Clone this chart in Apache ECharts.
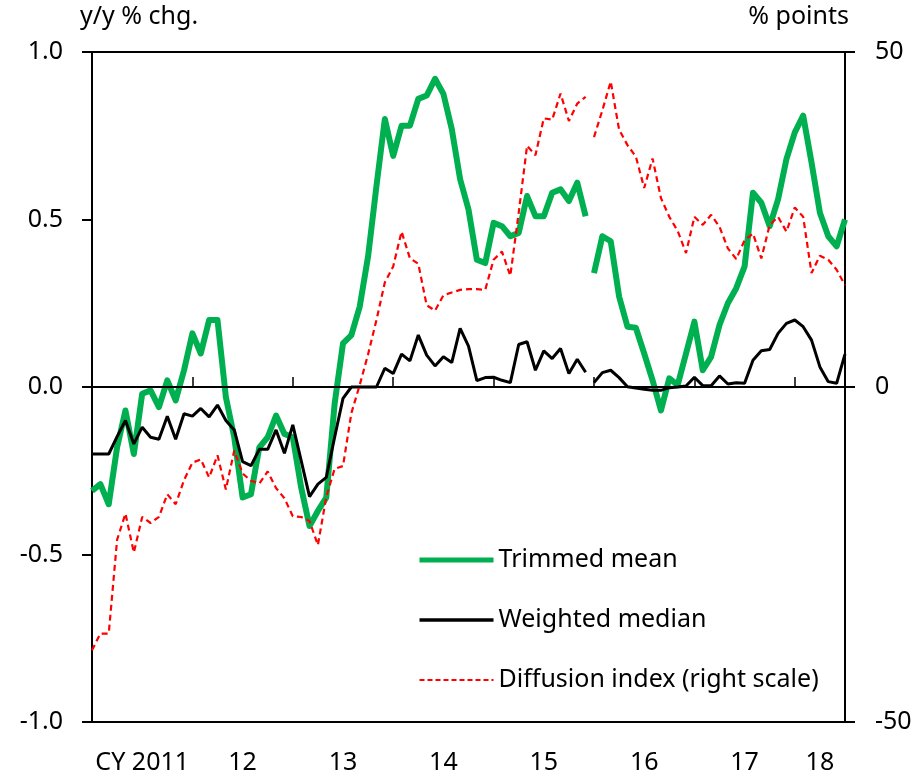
<!DOCTYPE html>
<html>
<head>
<meta charset="utf-8">
<script src="https://cdn.jsdelivr.net/npm/echarts@6/dist/echarts.min.js"></script>
<style>
html, body { margin: 0; padding: 0; background: #fff; }
#chart { width: 919px; height: 779px; }
</style>
</head>
<body>
<div id="chart"></div>
<script>
// monthly points, CY2011/1 .. 2018/7
var months = [];
for (var y = 2011; y <= 2018; y++) {
  for (var m = 1; m <= 12; m++) {
    if (y === 2018 && m > 7) break;
    months.push(y + '/' + m);
  }
}
var yearLabels = ['CY 2011', '12', '13', '14', '15', '16', '17', '18'];
var yearLabelIdx = [6, 18, 30, 42, 54, 66, 78, 87];
var breakIdx = 60; // series restart in Jan 2016

// y/y % chg.
var trimmedMean = [
  -0.31, -0.29, -0.35, -0.18, -0.07, -0.20, -0.02, -0.01, -0.06, 0.02, -0.04, 0.05,
  0.16, 0.10, 0.20, 0.20, -0.03, -0.15, -0.33, -0.32, -0.18, -0.15, -0.085, -0.14,
  -0.15, -0.30, -0.415, -0.37, -0.33, -0.05, 0.13, 0.155, 0.24, 0.39, 0.60, 0.80,
  0.69, 0.78, 0.78, 0.86, 0.87, 0.92, 0.875, 0.77, 0.62, 0.53, 0.38, 0.37,
  0.49, 0.48, 0.45, 0.46, 0.57, 0.51, 0.51, 0.58, 0.59, 0.555, 0.61, 0.51,
  0.34, 0.45, 0.435, 0.27, 0.18, 0.177, 0.10, 0.02, -0.07, 0.026, 0.006, 0.10,
  0.195, 0.05, 0.09, 0.185, 0.25, 0.295, 0.36, 0.58, 0.55, 0.48, 0.56, 0.68,
  0.76, 0.81, 0.67, 0.52, 0.45, 0.42, 0.50
];
var weightedMedian = [
  -0.20, -0.20, -0.20, -0.148, -0.10, -0.17, -0.12, -0.15, -0.156, -0.087, -0.156, -0.08,
  -0.087, -0.064, -0.089, -0.054, -0.10, -0.128, -0.223, -0.235, -0.186, -0.186, -0.128, -0.198,
  -0.113, -0.22, -0.327, -0.29, -0.27, -0.15, -0.034, 0.0, 0.0, 0.0, 0.0, 0.056,
  0.04, 0.098, 0.078, 0.155, 0.095, 0.063, 0.09, 0.073, 0.175, 0.122, 0.019, 0.028,
  0.029, 0.02, 0.013, 0.127, 0.135, 0.05, 0.108, 0.085, 0.115, 0.04, 0.083, 0.044,
  0.013, 0.043, 0.05, 0.028, 0.001, -0.003, -0.007, -0.01, -0.01, -0.002, 0.0, 0.003,
  0.029, 0.004, 0.004, 0.033, 0.009, 0.013, 0.011, 0.08, 0.108, 0.112, 0.16, 0.19,
  0.20, 0.18, 0.14, 0.06, 0.016, 0.011, 0.098
];
// % points, right scale
var diffusionIndex = [
  -39.3, -36.8, -36.8, -22.8, -18.9, -24.7, -19.4, -20.3, -19.4, -16.0, -17.5, -13.9,
  -11.3, -10.8, -13.5, -10.2, -15.3, -9.5, -12.9, -14.0, -14.4, -12.6, -15.1, -16.6,
  -19.3, -19.4, -20.0, -23.6, -16.4, -12.2, -11.8, -3.9, 0.3, 4.9, 10.0, 15.6,
  18.0, 23.2, 19.2, 18.4, 12.2, 11.4, 13.7, 14.1, 14.5, 14.6, 14.6, 14.5,
  19.0, 20.2, 16.6, 26.0, 36.0, 34.6, 40.1, 39.9, 43.8, 39.7, 42.3, 43.3,
  37.3, 41.3, 45.6, 38.4, 36.1, 34.4, 29.7, 34.1, 28.2, 25.4, 23.3, 20.0,
  25.4, 24.2, 25.7, 23.9, 20.7, 19.1, 21.9, 22.9, 19.2, 24.2, 25.4, 23.2,
  26.8, 25.4, 17.0, 19.6, 19.0, 17.5, 15.2
];

var FONT = 'Noto Sans';
var FS = 25;

function part(arr, first) {
  return arr.map(function (v, i) {
    return (first ? i < breakIdx : i >= breakIdx) ? v : '-';
  });
}

function lineSeries(name, arr, lineStyle, yAxisIndex) {
  return [true, false].map(function (first) {
    return {
      name: name,
      type: 'line',
      yAxisIndex: yAxisIndex,
      data: part(arr, first),
      symbol: 'none',
      showSymbol: false,
      connectNulls: false,
      animation: false,
      itemStyle: { color: lineStyle.color },
      lineStyle: lineStyle
    };
  });
}

var series = [].concat(
  lineSeries('Trimmed mean', trimmedMean, { color: '#00B050', width: 6, join: 'round' }, 0),
  lineSeries('Weighted median', weightedMedian, { color: '#000000', width: 3 }, 0),
  lineSeries('Diffusion index (right scale)', diffusionIndex, { color: '#FF0000', width: 2.2, type: [6, 4] }, 1)
);
// zero line
series[0].markLine = {
  silent: true,
  symbol: 'none',
  label: { show: false },
  lineStyle: { color: '#000', width: 2, type: 'solid' },
  data: [{ yAxis: 0 }]
};

var chart = echarts.init(document.getElementById('chart'));
chart.setOption({
  animation: false,
  textStyle: { fontFamily: FONT },
  grid: {
    left: 92, right: 74, top: 52, bottom: 57,
    show: true, borderColor: '#000', borderWidth: 2
  },
  legend: {
    data: [
      { name: 'Trimmed mean', lineStyle: { width: 5 } },
      { name: 'Weighted median', lineStyle: { width: 3.5 } },
      { name: 'Diffusion index (right scale)', lineStyle: { width: 2.2, type: [5, 3] } }
    ],
    orient: 'vertical',
    left: 417,
    top: 545,
    padding: 0,
    itemWidth: 74,
    itemHeight: 14,
    itemGap: 30,
    itemStyle: { opacity: 0 },
    textStyle: { fontFamily: FONT, fontSize: FS, color: '#000', lineHeight: 30 }
  },
  xAxis: {
    type: 'category',
    data: months,
    boundaryGap: false,
    axisLine: { lineStyle: { color: '#000', width: 2 } },
    axisTick: {
      inside: true, length: 10,
      lineStyle: { color: '#000', width: 1.5 },
      interval: function (i) { return i > 0 && i % 12 === 0; }
    },
    axisLabel: {
      interval: function (i) { return yearLabelIdx.indexOf(i) >= 0; },
      formatter: function (v, i) { return yearLabels[yearLabelIdx.indexOf(i)]; },
      fontFamily: FONT, fontSize: FS, color: '#000', margin: 28
    },
    splitLine: { show: false }
  },
  yAxis: [
    {
      type: 'value',
      min: -1, max: 1, interval: 0.5,
      name: 'y/y % chg.',
      nameLocation: 'end',
      nameGap: 35,
      nameTextStyle: { fontFamily: FONT, fontSize: FS, color: '#000', align: 'left', verticalAlign: 'middle', padding: [0, 0, 0, -12] },
      axisLine: { show: true, lineStyle: { color: '#000', width: 2 } },
      axisTick: { show: true, length: 10, lineStyle: { color: '#000', width: 2 } },
      axisLabel: {
        formatter: function (v) { return v.toFixed(1); },
        fontFamily: FONT, fontSize: FS, color: '#000', margin: 29
      },
      splitLine: { show: false }
    },
    {
      type: 'value',
      min: -50, max: 50, interval: 50,
      position: 'right',
      name: '% points',
      nameLocation: 'end',
      nameGap: 35,
      nameTextStyle: { fontFamily: FONT, fontSize: FS, color: '#000', align: 'right', verticalAlign: 'middle', padding: [0, -4, 0, 0] },
      axisLine: { show: true, lineStyle: { color: '#000', width: 2 } },
      axisTick: { show: true, length: 10, lineStyle: { color: '#000', width: 2 } },
      axisLabel: { fontFamily: FONT, fontSize: FS, color: '#000', margin: 30 },
      splitLine: { show: false }
    }
  ],
  series: series
});
</script>
</body>
</html>
